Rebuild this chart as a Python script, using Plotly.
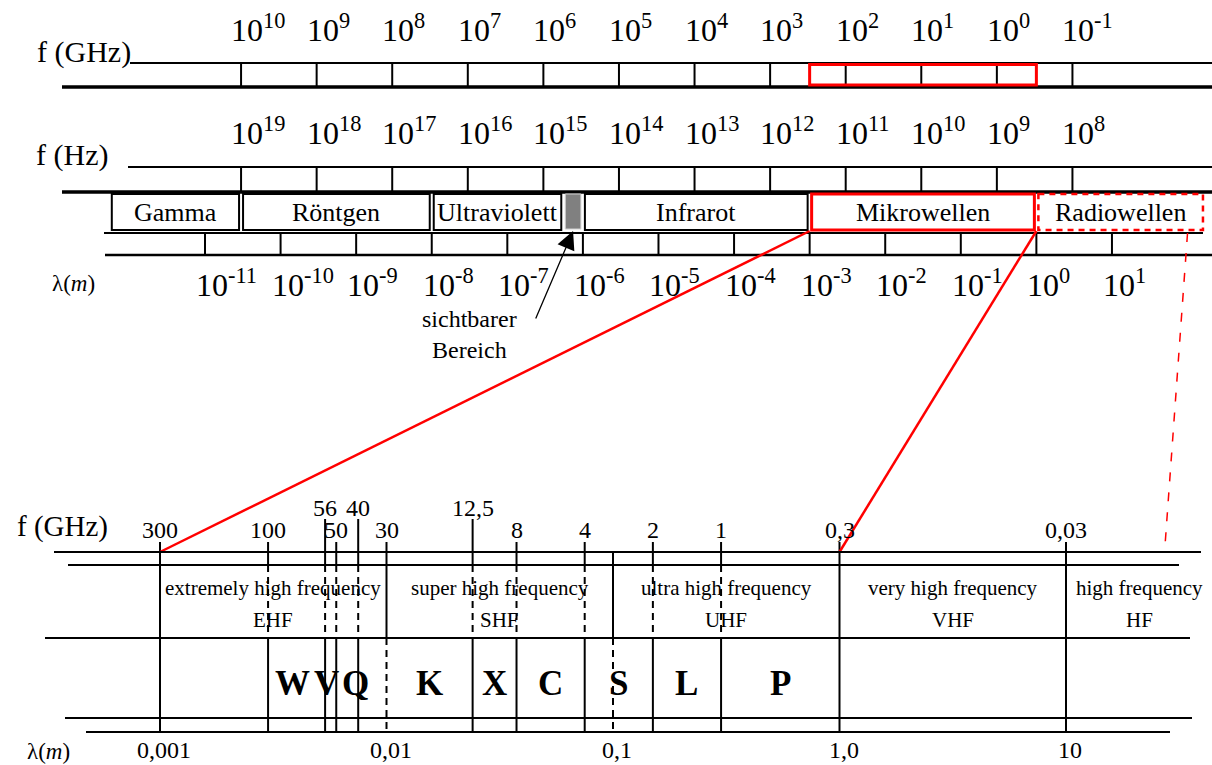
import numpy as np
import plotly.graph_objects as go

# ---------------- data ----------------
C_M_GHZ = 0.3  # wavelength [m] = 0.3 / f [GHz]

ghz_exponents = [10, 9, 8, 7, 6, 5, 4, 3, 2, 1, 0, -1]            # f (GHz) tick labels
hz_exponents = [19, 18, 17, 16, 15, 14, 13, 12, 11, 10, 9, 8]      # f (Hz) tick labels
lambda_exponents = [-11, -10, -9, -8, -7, -6, -5, -4, -3, -2, -1, 0, 1]  # λ (m) tick labels

spectrum_names = ["Gamma", "Röntgen", "Ultraviolett", "", "Infrarot", "Mikrowellen", "Radiowellen"]
spectrum_edges_m = [5.5e-13, 3e-11, 1e-8, 5.5e-7, 1e-6, 1e-3, 1.0, 170.0]
visible_index = 3
micro_index = 5
radio_index = 6

zoom_link_ghz = [300, 0.3]          # Mikrowellen range linked to the lower scale
radio_link_ghz = (0.003, 0.011)     # dashed link: upper end, lower end

lower_freq_ghz = [300, 100, 56, 50, 40, 30, 12.5, 8, 4, 3, 2, 1, 0.3, 0.03]
lower_freq_labels = ["300", "100", "56", "50", "40", "30", "12,5", "8", "4", "", "2", "1", "0,3", "0,03"]
raised_labels = ["56", "40", "12,5"]
itu_edges_ghz = [300, 30, 3, 0.3, 0.03]
radar_edges_ghz = [300, 100, 56, 50, 40, 12.5, 8, 4, 2, 1, 0.3, 0.03]

itu_names = ["extremely high frequency", "super high frequency", "ultra high frequency",
             "very high frequency", "high frequency"]
itu_abbr = ["EHF", "SHF", "UHF", "VHF", "HF"]
itu_bands_ghz = [(300, 30), (30, 3), (3, 0.3), (0.3, 0.03), (0.03, 0.003)]

radar_letters = ["W", "V", "Q", "K", "X", "C", "S", "L", "P"]
radar_bands_ghz = [(100, 56), (56, 50), (50, 40), (30, 12.5), (12.5, 8), (8, 4), (4, 2), (2, 1), (1, 0.3)]

lower_lambda_m = [0.001, 0.01, 0.1, 1.0, 10]
lower_lambda_labels = ["0,001", "0,01", "0,1", "1,0", "10"]

# ---------------- layout constants ----------------
W, H = 1212, 765
FONT = "Liberation Serif"
RED = "#ff0000"

UP_PX_DEC, UP_ANCHOR_PX, UP_ANCHOR_LOG = 75.58, 205, -11
LO_PX_DEC, LO_ANCHOR_PX, LO_ANCHOR_LOG = 226.5, 160, -3
up_range = [UP_ANCHOR_LOG - UP_ANCHOR_PX / UP_PX_DEC, UP_ANCHOR_LOG + (W - UP_ANCHOR_PX) / UP_PX_DEC]
lo_range = [LO_ANCHOR_LOG - LO_ANCHOR_PX / LO_PX_DEC, LO_ANCHOR_LOG + (W - LO_ANCHOR_PX) / LO_PX_DEC]

# vertical positions (pixels from top)
Y_GHZ_TOP, Y_GHZ_BOT = 63, 87
Y_HZ_TOP, Y_HZ_BOT = 167, 192
Y_BOX_TOP, Y_BOX_BOT = 194, 230
Y_LAM_TOP, Y_LAM_BOT = 233, 255
Y_F, Y_R1, Y_R2, Y_R3, Y_R4 = 552, 565, 638, 718, 732

LETTER_SIZE = 35
LETTER_EM = {"W": 1.0, "V": 0.722, "Q": 0.778, "K": 0.778, "X": 0.722,
             "C": 0.722, "S": 0.556, "L": 0.667, "P": 0.611}   # Times bold glyph widths

fig = go.Figure()
shapes, annotations = [], []


def lam_of(f_ghz):
    return C_M_GHZ / f_ghz


def paper_of(lam, rng):
    return (np.log10(lam) - rng[0]) / (rng[1] - rng[0])


def segs(xaxis, segments, width=2, color="black", dash="solid"):
    xs, ys = [], []
    for (x, y0, y1) in segments:
        xs += [x, x, None]
        ys += [y0, y1, None]
    fig.add_trace(go.Scatter(x=xs, y=ys, xaxis=xaxis, yaxis="y", mode="lines",
                             line=dict(color=color, width=width, dash=dash),
                             hoverinfo="skip", showlegend=False))


def hline(x0, x1, y, w=2):
    shapes.append(dict(type="line", xref="paper", yref="y", x0=x0 / W, x1=x1 / W, y0=y, y1=y,
                       line=dict(color="black", width=w)))


def label(xref, x, y, s, size, xanchor="center", xshift=0, bold=False):
    if bold:
        s = "<b>" + s + "</b>"
    annotations.append(dict(xref=xref, yref="y", x=x, y=y, text=s, showarrow=False,
                            xanchor=xanchor, yanchor="middle", xshift=xshift,
                            font=dict(family=FONT, size=size, color="black")))


# ---------------- upper part: frame lines ----------------
hline(130, W, Y_GHZ_TOP, 2)
hline(62, W, Y_GHZ_BOT, 3.5)
hline(128, W, Y_HZ_TOP, 2)
hline(62, W, Y_HZ_BOT, 3.5)
hline(104, 1203, Y_LAM_TOP, 2)
hline(105, W, Y_LAM_BOT, 2.5)

# ticks
segs("x", [(lam_of(10.0 ** e), Y_GHZ_TOP, Y_GHZ_BOT) for e in ghz_exponents])
segs("x", [(3e8 / 10.0 ** e, Y_HZ_TOP, Y_HZ_BOT) for e in hz_exponents])
segs("x", [(10.0 ** e, Y_LAM_TOP, Y_LAM_BOT) for e in lambda_exponents])

# tick labels
for e in ghz_exponents:
    label("x", np.log10(lam_of(10.0 ** e)), 28, f"10<sup>{e}</sup>", 32, "left", -12)
for e in hz_exponents:
    label("x", np.log10(3e8 / 10.0 ** e), 131, f"10<sup>{e}</sup>", 32, "left", -12)
for e in lambda_exponents:
    label("x", e, 283, f"10<sup>{e}</sup>", 32, "left", -11)

label("paper", 35 / W, 52, "f (GHz)", 30, "left")
label("paper", 34 / W, 155, "f (Hz)", 30, "left")
label("paper", 50 / W, 283, "λ(<i>m</i>)", 23, "left")

# red range box on GHz row
shapes.append(dict(type="rect", xref="x", yref="y",
                   x0=lam_of(zoom_link_ghz[0]), x1=lam_of(zoom_link_ghz[1]),
                   y0=Y_GHZ_TOP + 1.5, y1=Y_GHZ_BOT - 2, line=dict(color=RED, width=3)))

# spectrum boxes
gap = 10 ** (2.0 / UP_PX_DEC)
for i, name in enumerate(spectrum_names):
    a, b = spectrum_edges_m[i] * gap, spectrum_edges_m[i + 1] / gap
    if i == visible_index:
        shapes.append(dict(type="rect", xref="x", yref="y", x0=a, x1=b, y0=Y_BOX_TOP, y1=Y_BOX_BOT - 1,
                           fillcolor="#808080", line=dict(color="#d0d0d0", width=1)))
        continue
    if i == micro_index:
        ln = dict(color=RED, width=3)
    elif i == radio_index:
        ln = dict(color=RED, width=2.5, dash="6px,5px")
    else:
        ln = dict(color="black", width=2)
    shapes.append(dict(type="rect", xref="x", yref="y", x0=a, x1=b, y0=Y_BOX_TOP, y1=Y_BOX_BOT,
                       line=ln, fillcolor="rgba(0,0,0,0)"))
    label("x", (np.log10(a) + np.log10(b)) / 2, 212, name, 26)

# visible-range pointer
vis_c = (np.log10(spectrum_edges_m[visible_index]) + np.log10(spectrum_edges_m[visible_index + 1])) / 2
annotations.append(dict(xref="x", yref="y", x=vis_c, y=Y_BOX_BOT + 1, text="", showarrow=True,
                        ax=-38, ay=89, arrowhead=2, arrowsize=2.8, arrowwidth=1.3, arrowcolor="black"))
label("paper", 469 / W, 334, "sichtbarer<br>Bereich", 24)

# ---------------- connectors ----------------
for f in zoom_link_ghz:
    lam = lam_of(f)
    shapes.append(dict(type="line", xref="paper", yref="y",
                       x0=paper_of(lam, up_range), y0=Y_BOX_BOT + 1,
                       x1=paper_of(lam, lo_range), y1=Y_F,
                       line=dict(color=RED, width=2.5)))
shapes.append(dict(type="line", xref="paper", yref="y",
                   x0=paper_of(lam_of(radio_link_ghz[0]), up_range), y0=Y_LAM_TOP,
                   x1=paper_of(lam_of(radio_link_ghz[1]), lo_range), y1=Y_F - 2,
                   line=dict(color=RED, width=1.5, dash="9px,11px")))

# ---------------- lower part ----------------
hline(54, 1201, Y_F, 2)
hline(68, 1179, Y_R1, 2)
hline(45, 1190, Y_R2, 2)
hline(65, 1192, Y_R3, 2)
hline(86, 1170, Y_R4, 2)

solid, dashed = [], []
for f, lab in zip(lower_freq_ghz, lower_freq_labels):
    lam = lam_of(f)
    top = Y_F if lab == "" else (519 if lab in raised_labels else 542)
    solid.append((lam, top, Y_R1))
    (solid if f in itu_edges_ghz else dashed).append((lam, Y_R1, Y_R2))
    (solid if f in radar_edges_ghz else dashed).append((lam, Y_R2, Y_R4))
    if lab:
        label("x2", np.log10(lam), 508 if lab in raised_labels else 530, lab, 24)
segs("x2", solid, 2)
segs("x2", dashed, 2, dash="7px,5px")

for name, ab, (fa, fb) in zip(itu_names, itu_abbr, itu_bands_ghz):
    a = np.log10(lam_of(fa))
    b = min(np.log10(lam_of(fb)), lo_range[1])
    label("x2", (a + b) / 2, 588, name, 21)
    label("x2", (a + b) / 2, 620, ab, 21)

# radar band letters: centred in their band, then spread apart so neighbours do not collide
lo_scale = W / (lo_range[1] - lo_range[0])
centres = [((np.log10(lam_of(fa)) + np.log10(lam_of(fb))) / 2) for fa, fb in radar_bands_ghz]
pos_px = [(c - lo_range[0]) * lo_scale for c in centres]
widths = [LETTER_EM[l] * LETTER_SIZE for l in radar_letters]
for _ in range(30):
    for i in range(len(pos_px) - 1):
        ov = (pos_px[i] + widths[i] / 2 + 3) - (pos_px[i + 1] - widths[i + 1] / 2)
        if ov > 0:
            pos_px[i] -= ov / 2
            pos_px[i + 1] += ov / 2
for letter, c, p in zip(radar_letters, centres, pos_px):
    label("x2", c, 683, letter, LETTER_SIZE, xshift=p - (c - lo_range[0]) * lo_scale, bold=True)

for lam, lab in zip(lower_lambda_m, lower_lambda_labels):
    label("x2", np.log10(lam), 750, lab, 24, xshift=4)

label("paper", 15 / W, 526, "f (GHz)", 29, "left")
label("paper", 25 / W, 751, "λ(<i>m</i>)", 23, "left")

fig.update_layout(
    width=W, height=H, autosize=False,
    margin=dict(l=0, r=0, t=0, b=0, pad=0),
    paper_bgcolor="white", plot_bgcolor="white",
    showlegend=False,
    xaxis=dict(type="log", range=up_range, visible=False, domain=[0, 1], fixedrange=True),
    xaxis2=dict(type="log", range=lo_range, visible=False, overlaying="x", anchor="y", fixedrange=True),
    yaxis=dict(range=[H, 0], visible=False, domain=[0, 1], fixedrange=True),
    shapes=shapes,
    annotations=annotations,
)

fig.write_html("out.html", config={"displayModeBar": False},
               post_script="document.body.style.margin='0';document.body.style.overflow='hidden';")
